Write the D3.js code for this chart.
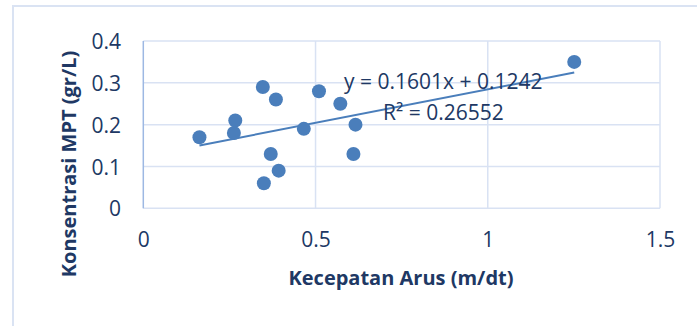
<!DOCTYPE html>
<html><head><meta charset="utf-8">
<script src="https://cdn.jsdelivr.net/npm/d3@7"></script>
<style>html,body{margin:0;padding:0;background:#fff;overflow:hidden}</style>
</head><body>
<svg id="c" width="697" height="326"></svg>
<script>
const xValues = [0.163, 0.267, 0.263, 0.347, 0.385, 0.370, 0.393, 0.350, 0.466, 0.510, 0.572, 0.616, 0.610, 1.251];
const yValues = [0.17, 0.21, 0.18, 0.29, 0.26, 0.13, 0.09, 0.06, 0.19, 0.28, 0.25, 0.20, 0.13, 0.35];
const xTicks = [0, 0.5, 1, 1.5];
const yTicks = [0, 0.1, 0.2, 0.3, 0.4];
const trendSlope = 0.1601;
const trendIntercept = 0.1242;
const equationLabel = "y = 0.1601x + 0.1242";
const r2Label = "R² = 0.26552";
const xTitle = "Kecepatan Arus (m/dt)";
const yTitle = "Konsentrasi MPT (gr/L)";

const svg = d3.select("#c");
const font = "'Open Sans', sans-serif";
const textColor = "#203864";
const pointColor = "#4a7ebb";
const fs = 21;

svg.append("rect").attr("x", 13).attr("y", 6).attr("width", 700).attr("height", 340)
  .attr("fill", "none").attr("stroke", "#dae3f3").attr("stroke-width", 2);

const x = d3.scaleLinear().domain([0, 1.5]).range([143.3, 660]);
const y = d3.scaleLinear().domain([0, 0.4]).range([208.3, 41]);

const g = svg.append("g");
g.selectAll("line.hg").data(yTicks).join("line")
  .attr("x1", x(0)).attr("x2", x(1.5)).attr("y1", d => y(d)).attr("y2", d => y(d))
  .attr("stroke", "#d9e2f3").attr("stroke-width", 1.5);
g.selectAll("line.vg").data(xTicks).join("line")
  .attr("y1", y(0)).attr("y2", y(0.4)).attr("x1", d => x(d)).attr("x2", d => x(d))
  .attr("stroke", d => d === 0 ? "#9db8e3" : "#d9e2f3").attr("stroke-width", 1.5);

const xAxis = d3.axisBottom(x).tickValues(xTicks).tickSize(0).tickPadding(0).tickFormat(d => String(d));
const xa = svg.append("g").attr("transform", `translate(0,${y(0)})`).call(xAxis);
xa.select(".domain").remove();
xa.selectAll("text").attr("dy", null).attr("y", 39)
  .attr("font-family", font).attr("font-size", fs).attr("fill", textColor);

const yAxis = d3.axisLeft(y).tickValues(yTicks).tickSize(0).tickPadding(0).tickFormat(d => String(d));
const ya = svg.append("g").attr("transform", `translate(${121},0)`).call(yAxis);
ya.select(".domain").remove();
ya.selectAll("text").attr("dy", "0.36em")
  .attr("font-family", font).attr("font-size", fs).attr("fill", textColor);

const xmin = d3.min(xValues), xmax = d3.max(xValues);
svg.append("line")
  .attr("x1", x(xmin)).attr("y1", y(trendSlope * xmin + trendIntercept))
  .attr("x2", x(xmax)).attr("y2", y(trendSlope * xmax + trendIntercept))
  .attr("stroke", "#4a7ebb").attr("stroke-width", 2);

svg.selectAll("circle.pt").data(xValues.map((v, i) => [v, yValues[i]])).join("circle")
  .attr("cx", d => x(d[0])).attr("cy", d => y(d[1])).attr("r", 7)
  .attr("fill", pointColor);

svg.append("text").attr("x", 344).attr("y", 89).text(equationLabel)
  .attr("font-family", font).attr("font-size", fs).attr("fill", textColor);
svg.append("text").attr("x", 383).attr("y", 120).text(r2Label)
  .attr("font-family", font).attr("font-size", fs).attr("fill", textColor);

svg.append("text").attr("x", 401).attr("y", 285).attr("text-anchor", "middle").text(xTitle)
  .attr("font-family", font).attr("font-size", 20).attr("font-weight", "bold").attr("fill", textColor);
svg.append("text").attr("transform", "translate(76,164) rotate(-90)").attr("text-anchor", "middle").text(yTitle)
  .attr("font-family", font).attr("font-size", 20).attr("font-weight", "bold").attr("fill", textColor);
</script>
</body></html>
